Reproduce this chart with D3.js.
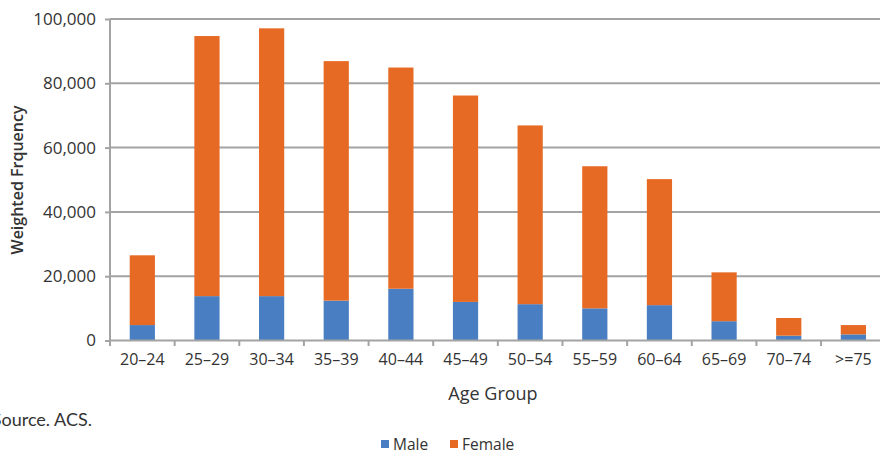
<!DOCTYPE html>
<html><head><meta charset="utf-8">
<script src="https://cdn.jsdelivr.net/npm/d3@7"></script>
<style>
body{margin:0;background:#fff;}
svg{display:block;}
</style></head><body>
<svg id="c" width="880" height="455"></svg>
<script>
const categories = ["20–24","25–29","30–34","35–39","40–44","45–49","50–54","55–59","60–64","65–69","70–74",">=75"];
const male =   [4800, 13800, 13800, 12400, 16100, 12000, 11300, 10000, 11000, 6000, 1500, 1900];
const female = [21700, 80900, 83300, 74500, 68800, 64200, 55600, 44200, 39200, 15200, 5500, 2900];
const yTicks = [0, 20000, 40000, 60000, 80000, 100000];
const seriesNames = ["Male", "Female"];
const colors = ["#4a7ec2", "#e76a24"];

const svg = d3.select("#c");
const font = "'Open Sans', 'Noto Sans', sans-serif";
const x = d3.scaleBand().domain(categories).range([110, 885.7]).paddingInner(0.61).paddingOuter(0.305);
const y = d3.scaleLinear().domain([0, 100000]).range([340.5, 19]);

// gridlines
svg.append("g").selectAll("line").data(yTicks.filter(d => d > 0)).join("line")
  .attr("x1", 110).attr("x2", 880).attr("y1", d => y(d)).attr("y2", d => y(d))
  .attr("stroke", "#a3a3a3").attr("stroke-width", 2);

const data = categories.map((c, i) => ({cat: c, Male: male[i], Female: female[i]}));
const stack = d3.stack().keys(seriesNames)(data);
svg.append("g").selectAll("g").data(stack).join("g")
  .attr("fill", (d, i) => colors[i])
  .selectAll("rect").data(d => d).join("rect")
  .attr("x", d => x(d.data.cat)).attr("width", x.bandwidth())
  .attr("y", d => y(d[1])).attr("height", d => y(d[0]) - y(d[1]));

// y axis
const ya = svg.append("g").attr("transform", "translate(110,0)")
  .call(d3.axisLeft(y).tickValues(yTicks).tickFormat(d3.format(",")).tickSize(5).tickPadding(9));
ya.select(".domain").attr("stroke", "#a3a3a3").attr("stroke-width", 2).attr("d", "M0,19V340.5");
ya.selectAll(".tick line").attr("stroke", "#a3a3a3").attr("stroke-width", 2);
ya.selectAll("text").attr("font-family", font).attr("font-size", 17).attr("fill", "#333");

// x axis
const xa = svg.append("g").attr("transform", "translate(0,340.5)")
  .call(d3.axisBottom(x).tickSize(0).tickPadding(13));
xa.select(".domain").attr("stroke", "#a3a3a3").attr("stroke-width", 2).attr("d", "M110,0H880");
xa.selectAll("text").attr("font-family", font).attr("font-size", 16).attr("fill", "#333");
svg.append("g").selectAll("line").data(d3.range(categories.length + 1)).join("line")
  .attr("x1", i => 110 + i * x.step()).attr("x2", i => 110 + i * x.step())
  .attr("y1", 340.5).attr("y2", 346)
  .attr("stroke", "#a3a3a3").attr("stroke-width", 2);

// axis titles
svg.append("text").attr("x", 493).attr("y", 400).attr("text-anchor", "middle")
  .attr("font-family", font).attr("font-size", 18).attr("fill", "#333").text("Age Group");
svg.append("text").attr("transform", "translate(23,180) rotate(-90)").attr("text-anchor", "middle")
  .attr("font-family", font).attr("font-size", 16).attr("font-weight", 600).attr("fill", "#333").text("Weighted Frquency");

// source (left edge cut off, as in the original)
const src = svg.append("text").attr("y", 426).attr("font-family", "Lato, sans-serif")
  .attr("font-size", 18).attr("fill", "#333").text("Source. ACS.");
const srcLen = src.node().getComputedTextLength();
src.attr("x", 92 - srcLen);

// legend
const leg = svg.append("g");
const legX = [381, 450];
seriesNames.forEach((n, i) => {
  leg.append("rect").attr("x", legX[i]).attr("y", 440).attr("width", 8).attr("height", 8).attr("fill", colors[i]);
  leg.append("text").attr("x", legX[i] + 12).attr("y", 450).attr("font-family", font)
    .attr("font-size", 15.5).attr("fill", "#333").text(n);
});
</script>
</body></html>
